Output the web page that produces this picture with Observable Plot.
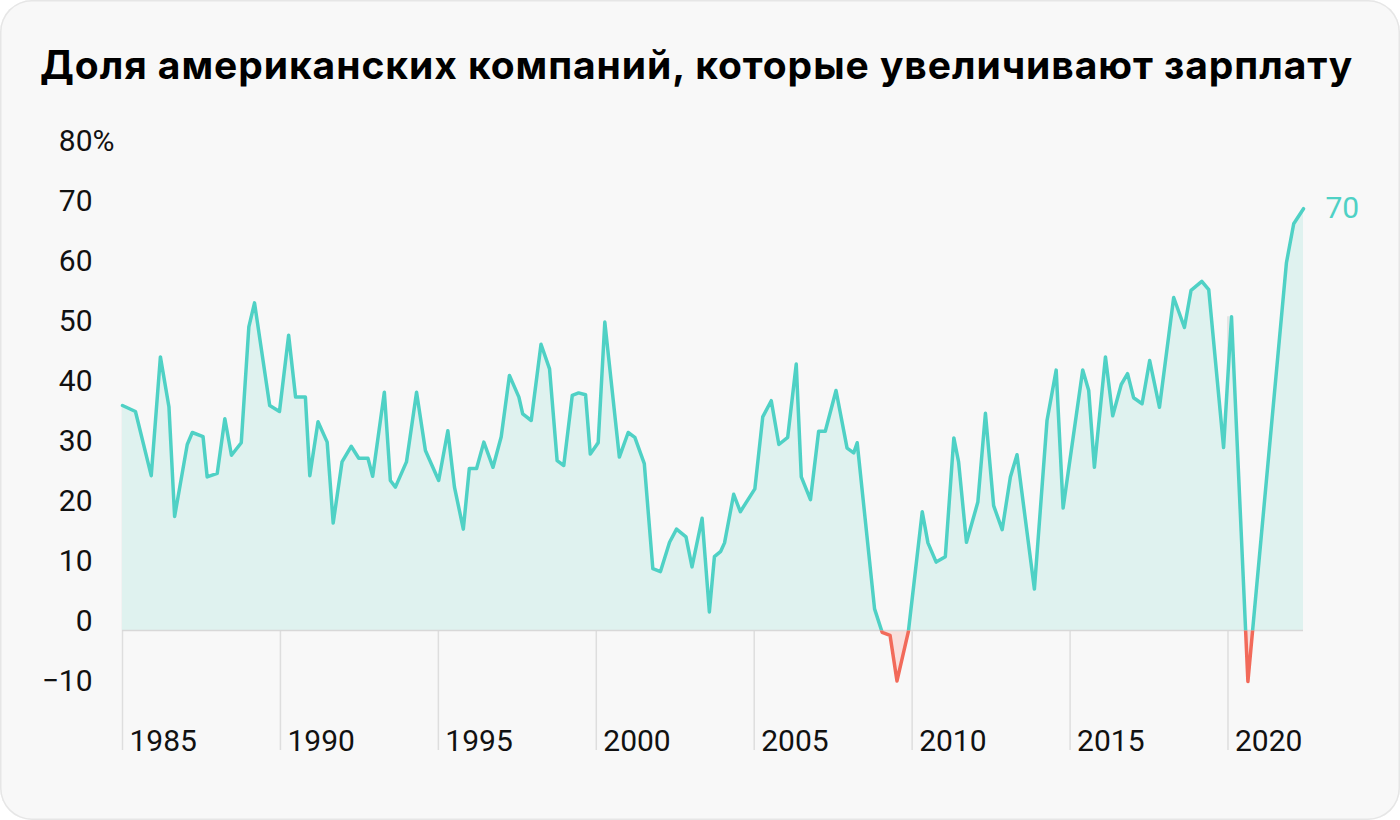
<!DOCTYPE html>
<html>
<head>
<meta charset="utf-8">
<script src="https://cdn.jsdelivr.net/npm/d3@7"></script>
<script src="https://cdn.jsdelivr.net/npm/@observablehq/plot@0.6"></script>
<style>
  html, body { margin: 0; padding: 0; background: #ffffff; }
  #card {
    position: relative; width: 1400px; height: 820px; box-sizing: border-box;
    background: #f8f8f8; border-radius: 32px; overflow: hidden;
    box-shadow: inset 0 0 0 1.5px #e6e6e6;
    font-family: Roboto, "Noto Sans", sans-serif;
  }
  #title {
    position: absolute; left: 40px; top: 45px; margin: 0;
    font: 700 39px/39px Inter, Roboto, "Noto Sans", sans-serif; color: #000; white-space: nowrap;
  }
  #chart { position: absolute; left: 0; top: 100px; }
</style>
</head>
<body>
<div id="card">
  <h1 id="title">Доля американских компаний, которые увеличивают зарплату</h1>
  <div id="chart"></div>
</div>
<script>
// Data (decimal year, % of companies)
const years = [
  1985.00, 1985.41, 1985.91, 1986.20, 1986.47, 1986.65, 1987.05, 1987.21, 1987.55, 1987.68,
  1988.00, 1988.24, 1988.45, 1988.76, 1989.00, 1989.18, 1989.66, 1989.97, 1990.26, 1990.48,
  1990.79, 1990.93, 1991.19, 1991.48, 1991.67, 1991.95, 1992.24, 1992.48, 1992.77, 1992.92,
  1993.29, 1993.48, 1993.64, 1993.99, 1994.31, 1994.59, 1995.01, 1995.30, 1995.51, 1995.79,
  1995.98, 1996.21, 1996.44, 1996.73, 1996.99, 1997.25, 1997.55, 1997.67, 1997.94, 1998.25,
  1998.52, 1998.76, 1998.97, 1999.24, 1999.44, 1999.66, 1999.81, 2000.06, 2000.27, 2000.73,
  2001.01, 2001.22, 2001.52, 2001.79, 2002.03, 2002.32, 2002.54, 2002.84, 2003.03, 2003.35,
  2003.58, 2003.74, 2003.94, 2004.06, 2004.35, 2004.56, 2005.02, 2005.27, 2005.54, 2005.78,
  2006.06, 2006.33, 2006.49, 2006.78, 2007.04, 2007.25, 2007.59, 2007.94, 2008.15, 2008.26,
  2008.81, 2009.05, 2009.30, 2009.52, 2009.88, 2010.32, 2010.50, 2010.76, 2011.05, 2011.32,
  2011.47, 2011.72, 2012.08, 2012.32, 2012.58, 2012.85, 2013.11, 2013.32, 2013.87, 2014.27,
  2014.56, 2014.78, 2015.40, 2015.59, 2015.77, 2016.12, 2016.35, 2016.62, 2016.82, 2017.01,
  2017.28, 2017.52, 2017.83, 2018.28, 2018.62, 2018.83, 2019.17, 2019.39, 2019.86, 2020.11,
  2020.63, 2021.85, 2022.08, 2022.39
];
const values = [
  37.5, 36.5, 25.8, 45.6, 37.3, 19.0, 31.0, 33.0, 32.3, 25.6,
  26.2, 35.3, 29.2, 31.3, 50.6, 54.6, 37.5, 36.5, 49.2, 38.9,
  38.9, 25.8, 34.8, 31.4, 17.9, 28.1, 30.7, 28.7, 28.7, 25.7,
  39.7, 25.0, 23.9, 28.1, 39.7, 30.0, 25.0, 33.3, 23.9, 16.9,
  27.0, 27.0, 31.4, 27.2, 32.3, 42.5, 38.9, 36.1, 35.0, 47.7,
  43.6, 28.3, 27.5, 39.2, 39.6, 39.3, 29.4, 31.3, 51.4, 28.9,
  33.0, 32.2, 27.8, 10.3, 9.8, 14.7, 16.9, 15.6, 10.6, 18.7,
  3.1, 12.3, 13.2, 14.6, 22.7, 19.8, 23.6, 35.6, 38.3, 31.0,
  32.2, 44.4, 25.6, 21.8, 33.2, 33.2, 40.0, 30.4, 29.6, 31.3,
  3.6, -0.3, -0.8, -8.4, -0.2, 19.8, 14.6, 11.4, 12.3, 32.1,
  28.1, 14.7, 21.4, 36.2, 20.8, 16.8, 25.6, 29.3, 6.9, 35.0,
  43.4, 20.4, 43.4, 40.0, 27.2, 45.6, 35.8, 41.0, 42.8, 38.8,
  37.8, 45.0, 37.2, 55.5, 50.5, 56.7, 58.2, 56.8, 30.5, 52.3,
  -8.5, 61.3, 67.8, 70.3
];
const tickYears = [1985, 1990, 1995, 2000, 2005, 2010, 2015, 2020];
const yTicks = [-10, 0, 10, 20, 30, 40, 50, 60, 70, 80];
const yDomain = [-20, 80];
const endLabel = "70";

const teal = "#4fd1c5";
const red = "#f26a5a";

const data = years.map((t, i) => ({t, v: values[i]}));
const last = data[data.length - 1];
// vertical grid rules rise from the bottom to the line at the observation nearest each tick year
const grid = tickYears.map(yr => {
  const near = d3.least(data, d => Math.abs(d.t - yr));
  return {t: yr, v: near.v};
});
const fmt = d => d < 0 ? "\u2212" + Math.abs(d) : String(d);

const W = 1400, H = 665;
const chart = Plot.plot({
  width: W,
  height: H,
  marginLeft: 122,
  marginRight: 97,
  marginTop: 50,
  marginBottom: 15,
  style: {background: "transparent", fontFamily: "Roboto, 'Noto Sans', sans-serif", color: "#111", overflow: "visible"},
  x: {domain: [years[0], years[years.length - 1]], axis: null},
  y: {domain: yDomain, axis: null},
  marks: [
    Plot.ruleX(grid, {x: "t", y1: yDomain[0], y2: "v", stroke: "#dedede", strokeWidth: 1.5}),
    Plot.areaY(data, {x: "t", y1: 0, y2: "v", fill: "#dff2ef"}),
    Plot.areaY(data, {x: "t", y1: 0, y2: "v", fill: "#f9dfdc"}),
    Plot.ruleY([0], {stroke: "#d8d8d8", strokeWidth: 1.5}),
    Plot.line(data, {x: "t", y: "v", stroke: teal, strokeWidth: 3.5}),
    Plot.line(data, {x: "t", y: "v", stroke: red, strokeWidth: 3.5}),
    Plot.text(yTicks, {y: d => d, text: fmt, frameAnchor: "left", textAnchor: "end", lineAnchor: "bottom", dx: -30, fontSize: 30, fill: "#111"}),
    Plot.text([80], {y: d => d, text: () => "%", frameAnchor: "left", textAnchor: "start", lineAnchor: "bottom", dx: -30, fontSize: 30, fill: "#111"}),
    Plot.text(tickYears, {x: d => d, y: () => yDomain[0], text: d => String(d), textAnchor: "start", lineAnchor: "bottom", dx: 7, fontSize: 30, fill: "#111"}),
    Plot.text([last], {x: "t", y: "v", text: () => endLabel, textAnchor: "start", dx: 22, fontSize: 30, fill: teal})
  ]
});

// split colours at zero using the plot's own y scale
const yDesc = chart.scale("y");
let y0 = yDesc && typeof yDesc.apply === "function" ? +yDesc.apply(0) : NaN;
if (!isFinite(y0)) y0 = d3.scaleLinear().domain(yDesc.domain).range(yDesc.range)(0);
const svg = d3.select(chart);
const defs = svg.append("defs");
defs.append("clipPath").attr("id", "clip-pos").append("rect")
  .attr("x", 0).attr("y", -50).attr("width", W).attr("height", y0 + 50);
defs.append("clipPath").attr("id", "clip-neg").append("rect")
  .attr("x", 0).attr("y", y0).attr("width", W).attr("height", H - y0 + 50);
const areas = svg.selectAll('g[aria-label="area"]').nodes();
const lines = svg.selectAll('g[aria-label="line"]').nodes();
if (areas[0]) areas[0].setAttribute("clip-path", "url(#clip-pos)");
if (areas[1]) areas[1].setAttribute("clip-path", "url(#clip-neg)");
if (lines[0]) lines[0].setAttribute("clip-path", "url(#clip-pos)");
if (lines[1]) lines[1].setAttribute("clip-path", "url(#clip-neg)");

document.getElementById("chart").append(chart);

// stretch the title's tracking so it spans the same width as in the reference
const titleEl = document.getElementById("title");
const targetW = 1312;
const n = titleEl.textContent.length;
const w0 = titleEl.getBoundingClientRect().width;
titleEl.style.letterSpacing = ((targetW - w0) / (n - 1)).toFixed(2) + "px";
</script>
</body>
</html>
